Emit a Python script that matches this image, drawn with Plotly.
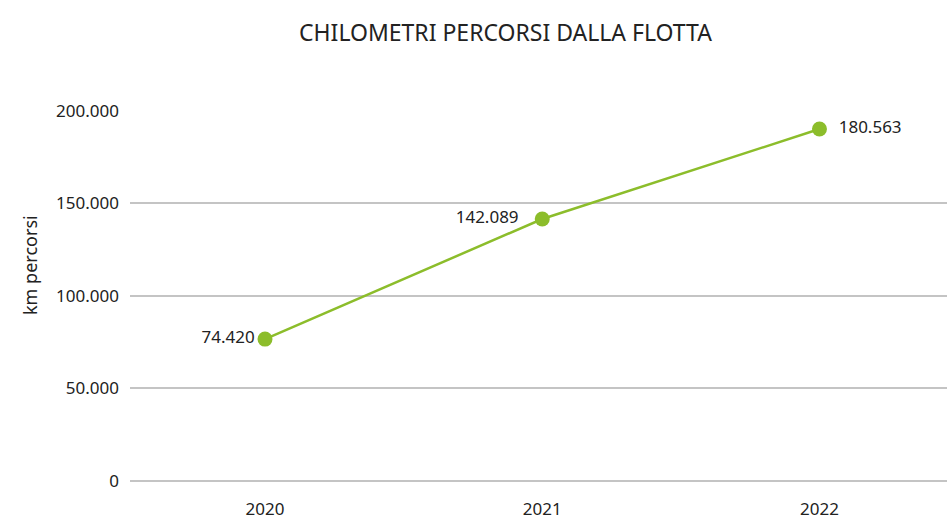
import plotly.graph_objects as go

years = ["2020", "2021", "2022"]
plotted_km = [76700, 141600, 190200]
label_texts = ["74.420", "142.089", "180.563"]
label_positions = ["middle left", "middle left", "middle right"]
label_pads = ["", "   ", "  "]
y_ticks = [0, 50000, 100000, 150000, 200000]
y_tick_labels = ["0", "50.000", "100.000", "150.000", "200.000"]

GREEN = "#8cbd2b"
FONT = "Noto Sans"
TXT = "#222222"

W, H = 947, 520
L, R, T, B = 130, 0, 110, 39

texts = []
for t, p, pad in zip(label_texts, label_positions, label_pads):
    texts.append(t + pad if p.endswith("left") else pad + t)

fig = go.Figure()
fig.add_trace(go.Scatter(
    x=[0, 1, 2], y=plotted_km, mode="lines+markers+text",
    line=dict(color=GREEN, width=2.5),
    marker=dict(color=GREEN, size=15),
    text=texts, textposition=label_positions,
    textfont=dict(family=FONT, size=17, color=TXT),
    cliponaxis=False, showlegend=False,
))

pw = W - L - R
ph = H - T - B

fig.update_layout(
    width=W, height=H,
    margin=dict(l=L, r=R, t=T, b=B, autoexpand=False),
    paper_bgcolor="white", plot_bgcolor="white",
    font=dict(family=FONT, size=17, color=TXT),
    separators=",.",
    annotations=[
        dict(text="CHILOMETRI PERCORSI DALLA FLOTTA", xref="paper", yref="paper",
             x=(505 - L) / pw, y=(H - B - 32) / ph, yanchor="middle", xanchor="center",
             showarrow=False, font=dict(family=FONT, size=23, color=TXT)),
        dict(text="km percorsi", xref="paper", yref="paper",
             x=(30 - L) / pw, y=(H - B - 265) / ph, textangle=-90,
             xanchor="center", yanchor="middle",
             showarrow=False, font=dict(family=FONT, size=18, color=TXT)),
    ],
)

fig.update_xaxes(
    range=[-0.487, 2.46], tickvals=[0, 1, 2], ticktext=years,
    showgrid=False, showline=False, zeroline=False, ticks="",
    ticklabelstandoff=16, automargin=False,
    tickfont=dict(family=FONT, size=17, color=TXT),
)
fig.update_yaxes(
    range=[0, 200500], tickvals=y_ticks, ticktext=y_tick_labels,
    showgrid=True, gridcolor="#c4c4c4", gridwidth=1.5,
    zeroline=True, zerolinecolor="#c4c4c4", zerolinewidth=1.5,
    showline=False, ticks="", ticklabelstandoff=10, automargin=False,
    tickfont=dict(family=FONT, size=17, color=TXT),
)

fig.write_html("out.html", config={"displayModeBar": False},
               post_script="document.body.style.margin='0';")
